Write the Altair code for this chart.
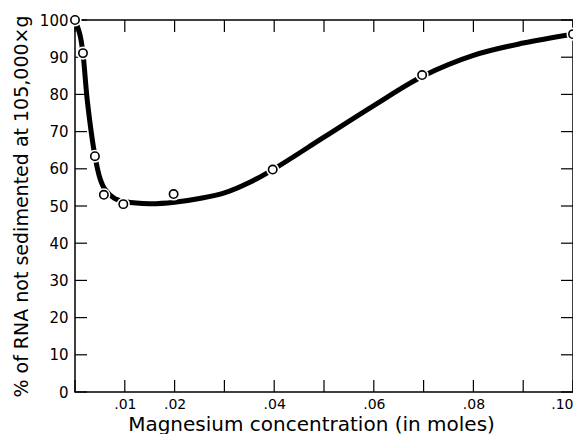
import altair as alt
import pandas as pd

# Measured points
pt_x = [0.0, 0.0016, 0.004, 0.0058, 0.0097, 0.0198, 0.0397, 0.0697, 0.100]
pt_y = [100, 91.1, 63.4, 53.0, 50.5, 53.2, 59.8, 85.2, 96.2]

# Smooth curve
curve_x = [0.0, 0.001, 0.0016, 0.0025, 0.004, 0.005, 0.006, 0.008, 0.010, 0.015,
           0.020, 0.025, 0.030, 0.035, 0.040, 0.050, 0.060, 0.070, 0.080, 0.090, 0.100]
curve_y = [100, 96, 91, 78, 63.5, 57.5, 54.5, 52, 51.2, 50.6,
           51, 52, 53.5, 56.3, 60, 68.5, 77, 85, 90.5, 93.8, 96.2]

x_ticks = [0.0, 0.01, 0.02, 0.03, 0.04, 0.05, 0.06, 0.07, 0.08, 0.09, 0.10]
x_labels = ["", ".01", ".02", "", ".04", "", ".06", "", ".08", "", ".10"]
y_ticks = [0, 10, 20, 30, 40, 50, 60, 70, 80, 90, 100]

W, H = 498, 372
FONT = "DejaVu Sans"
TL = 12

pts = pd.DataFrame({"x": pt_x, "y": pt_y})
curve = pd.DataFrame({"x": curve_x, "y": curve_y})
xt = pd.DataFrame({"x": x_ticks})
yt = pd.DataFrame({"y": y_ticks})

label_expr = "[" + ",".join("'%s'" % l for l in x_labels) + "][round(datum.value*100)]"

xscale = alt.Scale(domain=[0, 0.10], nice=False, zero=False)
yscale = alt.Scale(domain=[0, 100], nice=False)

xaxis = alt.Axis(values=x_ticks, labelExpr=label_expr, ticks=False, domain=False, grid=False,
                 labelFont=FONT, labelFontSize=14, labelColor="black", labelPadding=5,
                 labelFlush=True, labelOverlap=False,
                 title="Magnesium concentration (in moles)",
                 titleFont=FONT, titleFontSize=20, titleFontWeight="normal",
                 titleColor="black", titlePadding=3, titleX=236)
yaxis = alt.Axis(values=y_ticks, ticks=False, domain=False, grid=False,
                 labelFont=FONT, labelFontSize=15, labelColor="black", labelPadding=7,
                 labelOverlap=False,
                 title="% of RNA not sedimented at 105,000×g",
                 titleFont=FONT, titleFontSize=19, titleFontWeight="normal",
                 titleColor="black", titlePadding=8)

X = alt.X("x:Q", scale=xscale, axis=xaxis)
Y = alt.Y("y:Q", scale=yscale, axis=yaxis)

line = alt.Chart(curve).mark_line(color="black", strokeWidth=5, interpolate="catmull-rom").encode(
    x=X, y=Y)

halo = alt.Chart(pts).mark_point(filled=True, color="white", size=170, opacity=1).encode(x=X, y=Y)
circles = alt.Chart(pts).mark_point(filled=False, color="black", fill="white", fillOpacity=1,
                                    size=70, strokeWidth=1.6, opacity=1).encode(x=X, y=Y)

tick_style = dict(color="black", strokeWidth=1.2)
bottom = alt.Chart(xt).mark_rule(**tick_style).encode(
    x=X, y=alt.value(H), y2=alt.value(H - TL))
top = alt.Chart(xt).mark_rule(**tick_style).encode(
    x=X, y=alt.value(0), y2=alt.value(TL))
left = alt.Chart(yt).mark_rule(**tick_style).encode(
    y=Y, x=alt.value(0), x2=alt.value(TL))
right = alt.Chart(yt).mark_rule(**tick_style).encode(
    y=Y, x=alt.value(W), x2=alt.value(W - TL))

chart = alt.layer(line, bottom, top, left, right, halo, circles).properties(
    width=W, height=H,
    background="white",
    autosize=alt.AutoSizeParams(type="none"),
    padding={"left": 67, "top": 12, "right": 0, "bottom": 42},
).configure_view(stroke="black", strokeWidth=1.5)

chart.save("out.html", embed_options={"renderer": "svg", "actions": False})
